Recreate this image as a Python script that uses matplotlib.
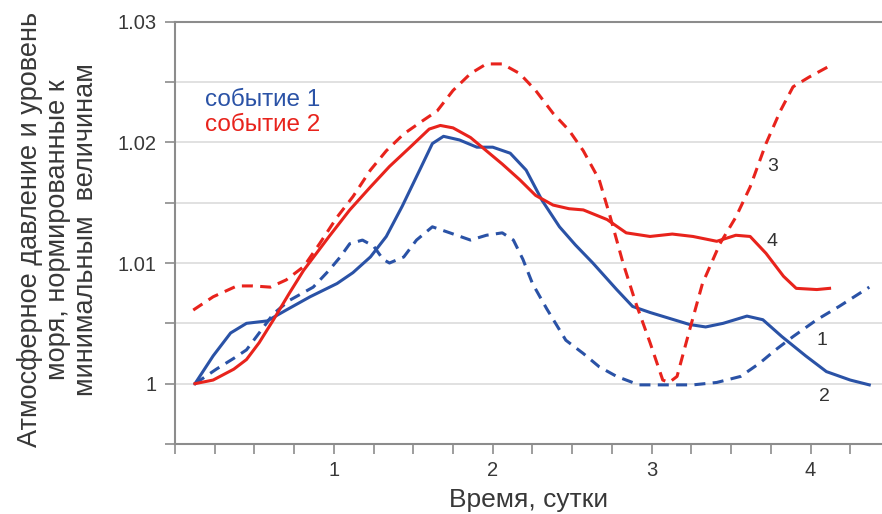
import matplotlib
matplotlib.use("Agg")
import matplotlib.pyplot as plt
from matplotlib.ticker import MultipleLocator, FixedLocator

plt.rcParams["font.family"] = ["Liberation Sans", "DejaVu Sans"]

BLUE = "#2a52a6"
RED = "#e8231c"
GRID = "#dcdcdc"
SPINE = "#8c8c8c"

# curve 1: event 1, solid blue
x1 = [0.126, 0.24, 0.35, 0.45, 0.58, 0.70, 0.85, 1.02, 1.12, 1.23, 1.33, 1.43, 1.54,
      1.62, 1.69, 1.79, 1.90, 2.00, 2.11, 2.21, 2.31, 2.42, 2.52, 2.63, 2.78, 2.88,
      2.99, 3.09, 3.24, 3.34, 3.45, 3.60, 3.70, 3.82, 3.97, 4.10, 4.25, 4.37]
y1 = [1.0, 1.0023, 1.0042, 1.0050, 1.0052, 1.0061, 1.0072, 1.0083, 1.0092, 1.0105,
      1.0122, 1.0147, 1.0177, 1.0199, 1.0205, 1.0202, 1.0196, 1.0196, 1.0191, 1.0177,
      1.0152, 1.0130, 1.0115, 1.0100, 1.0078, 1.0064, 1.0059, 1.0055, 1.0049, 1.0047,
      1.0050, 1.0056, 1.0053, 1.0039, 1.0023, 1.0010, 1.0003, 0.9999]

# curve 2: event 1, dashed blue
x2 = [0.126, 0.26, 0.37, 0.45, 0.53, 0.62, 0.72, 0.87, 0.97, 1.04, 1.10, 1.18, 1.25,
      1.31, 1.35, 1.44, 1.52, 1.62, 1.73, 1.86, 1.96, 2.06, 2.13, 2.19, 2.25, 2.34,
      2.46, 2.57, 2.67, 2.78, 2.92, 3.09, 3.26, 3.41, 3.56, 3.68, 3.78, 3.89, 4.04,
      4.18, 4.37]
y2 = [1.0, 1.0012, 1.0021, 1.0028, 1.0042, 1.0058, 1.0069, 1.0080, 1.0094, 1.0105,
      1.0116, 1.0119, 1.0114, 1.0103, 1.0100, 1.0105, 1.0119, 1.0130, 1.0125, 1.0119,
      1.0123, 1.0125, 1.0119, 1.0103, 1.0083, 1.0062, 1.0036, 1.0025, 1.0014, 1.0006,
      0.9999, 0.9999, 0.9999, 1.0001, 1.0006, 1.0017, 1.0028, 1.0039, 1.0053, 1.0064,
      1.0080]

# curve 3: event 2, dashed red
x3 = [0.115, 0.24, 0.39, 0.49, 0.60, 0.70, 0.81, 0.91, 1.02, 1.12, 1.23, 1.33, 1.44,
      1.56, 1.65, 1.75, 1.86, 1.96, 2.06, 2.17, 2.27, 2.38, 2.48, 2.57, 2.67, 2.74,
      2.82, 2.90, 2.99, 3.07, 3.11, 3.16, 3.24, 3.32, 3.43, 3.53, 3.62, 3.72, 3.81,
      3.89, 3.99, 4.13]
y3 = [1.0061, 1.0072, 1.0081, 1.0081, 1.0080, 1.0086, 1.0097, 1.0116, 1.0138, 1.0155,
      1.0177, 1.0193, 1.0207, 1.0218, 1.0226, 1.0243, 1.0257, 1.0265, 1.0265, 1.0257,
      1.0243, 1.0224, 1.0210, 1.0193, 1.0169, 1.0138, 1.0100, 1.0067, 1.0034, 1.0003,
      1.0001, 1.0006, 1.0045, 1.0083, 1.0116, 1.0138, 1.0163, 1.0199, 1.0226, 1.0246,
      1.0254, 1.0264]

# curve 4: event 2, solid red
x4 = [0.126, 0.24, 0.37, 0.45, 0.53, 0.62, 0.72, 0.81, 0.97, 1.10, 1.23, 1.35, 1.48,
      1.60, 1.67, 1.75, 1.86, 1.96, 2.06, 2.17, 2.27, 2.38, 2.48, 2.57, 2.72, 2.84,
      2.99, 3.13, 3.26, 3.41, 3.53, 3.62, 3.72, 3.83, 3.91, 4.04, 4.12]
y4 = [1.0, 1.0003, 1.0012, 1.0020, 1.0034, 1.0053, 1.0075, 1.0094, 1.0122, 1.0144,
      1.0163, 1.0180, 1.0196, 1.0211, 1.0214, 1.0212, 1.0204, 1.0193, 1.0182, 1.0169,
      1.0156, 1.0148, 1.0145, 1.0144, 1.0136, 1.0125, 1.0122, 1.0124, 1.0122, 1.0118,
      1.0123, 1.0122, 1.0108, 1.0089, 1.0079, 1.0078, 1.0079]

curve_labels = ["3", "4", "1", "2"]
label_x = [3.76, 3.76, 4.07, 4.09]
label_y = [1.0180, 1.0118, 1.0036, 0.9989]

legend_texts = ["событие 1", "событие 2"]

fig = plt.figure(figsize=(8.82, 5.14), dpi=100)
ax = fig.add_axes([0.1984, 0.1362, 0.8016, 0.8216])

dash = (0, (3.6, 2.4))
ax.plot(x1, y1, color=BLUE, lw=2.2, solid_joinstyle="round")
ax.plot(x2, y2, color=BLUE, lw=2.2, ls=dash)
ax.plot(x3, y3, color=RED, lw=2.2, ls=dash)
ax.plot(x4, y4, color=RED, lw=2.2, solid_joinstyle="round")

for t, lx, ly in zip(curve_labels, label_x, label_y):
    ax.text(lx, ly, t, fontsize=14, color="#333333", ha="center", va="center")

ax.text(0.19, 1.0235, legend_texts[0], fontsize=17.5, color=BLUE, va="center")
ax.text(0.19, 1.0214, legend_texts[1], fontsize=17.5, color=RED, va="center")

ax.set_xlim(0, 4.45)
ax.set_ylim(0.995, 1.03)

ax.xaxis.set_major_locator(FixedLocator([1, 2, 3, 4]))
ax.xaxis.set_minor_locator(MultipleLocator(0.25))
ax.yaxis.set_major_locator(FixedLocator([1.0, 1.01, 1.02, 1.03]))
ax.yaxis.set_minor_locator(MultipleLocator(0.005))
ax.set_yticklabels(["1", "1.01", "1.02", "1.03"])

ax.tick_params(which="both", direction="out", length=7, width=1.2, color=SPINE,
               labelsize=14.5, labelcolor="#383838")
ax.tick_params(axis="x", which="major", pad=5)
ax.tick_params(axis="y", which="major", pad=6)

ax.grid(True, axis="y", which="both", color=GRID, lw=1.2)
ax.set_axisbelow(True)

for side in ["left", "bottom", "top"]:
    ax.spines[side].set_color(SPINE)
    ax.spines[side].set_linewidth(1.5)
ax.spines["right"].set_visible(False)

ax.set_xlabel("Время, сутки", fontsize=19, color="#383838", labelpad=6)

fig.text(0.066, 0.553,
         "Атмосферное давление и уровень\nморя, нормированные к\nминимальным  величинам",
         rotation=90, fontsize=19.5, color="#383838", ha="center", va="center",
         multialignment="center", linespacing=1.1)

fig.savefig("out.png", dpi=100)
